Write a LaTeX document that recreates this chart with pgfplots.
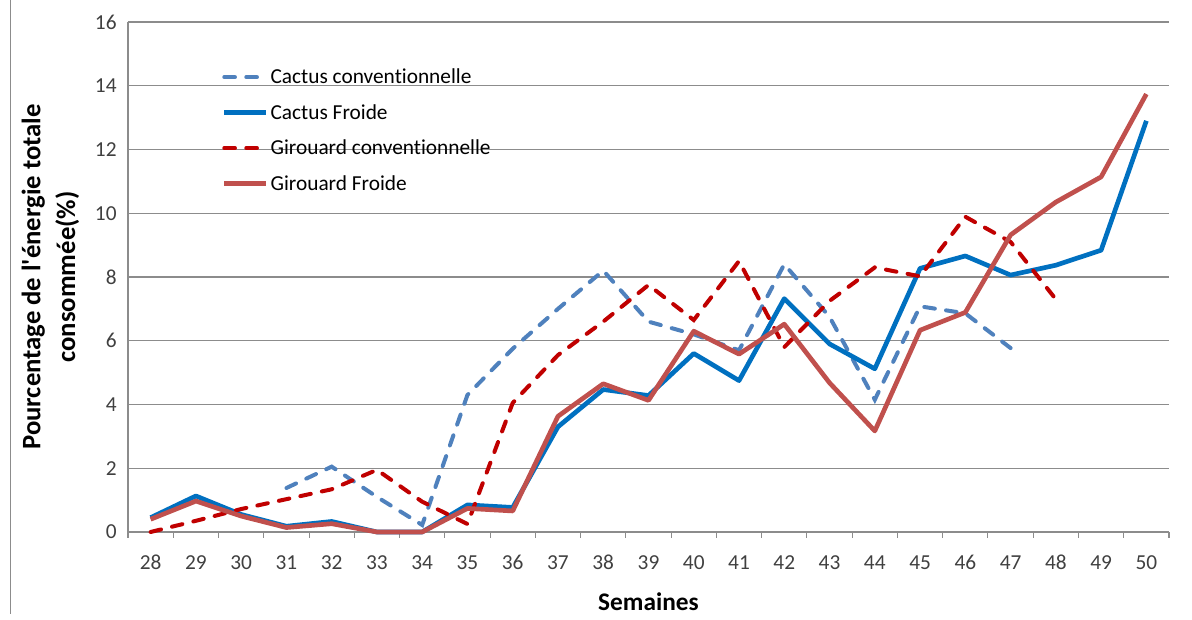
\documentclass[border=0pt]{standalone}
\usepackage{pgfplots}
\pgfplotsset{compat=1.18}
\usepackage{fontspec}
\setmainfont{Carlito}[Ligatures=NoCommon]
\definecolor{bdash}{HTML}{4F81BD}
\definecolor{bsolid}{HTML}{0070C0}
\definecolor{rdash}{HTML}{C00000}
\definecolor{rsolid}{HTML}{C0504D}
\definecolor{gridc}{HTML}{8C8C8C}
\definecolor{tickc}{HTML}{404040}
\begin{document}
\begin{tikzpicture}
\begin{axis}[
  scale only axis,
  width=780.75pt, height=382.5pt,
  xmin=27.5, xmax=50.5, ymin=0, ymax=16,
  xtick={28,...,50},
  minor xtick={27.5,28.5,...,50.5},
  ytick={0,2,...,16},
  axis x line*=bottom, axis y line*=left,
  axis line style={gridc, line width=0.8pt, -},
  tick align=outside,
  major tick length=0pt,
  minor tick length=4.5pt,
  every minor tick/.style={gridc, line width=0.8pt},
  ymajorgrids,
  major grid style={gridc, line width=0.8pt},
  yticklabel style={/pgf/number format/assume math mode=true, font=\fontsize{16}{18}\selectfont, text=tickc, xshift=-5pt},
  xticklabel style={/pgf/number format/assume math mode=true, font=\fontsize{16}{18}\selectfont, text=tickc, yshift=-14pt},
  ytick style={draw=none},
  ylabel={Pourcentage de l\textquotesingle énergie totale\\consommée(\%)},
  ylabel style={font=\bfseries\fontsize{20}{26}\selectfont, align=center, at={(axis description cs:-0.0745,0.5)}, anchor=center},
  xlabel={Semaines},
  xlabel style={font=\bfseries\fontsize{19}{22}\selectfont, at={(axis description cs:0.5,-0.137)}, anchor=center},
  legend style={draw=none, fill=none, inner sep=0pt, at={(axis description cs:0.09,0.914)}, anchor=north west,
    font=\fontsize{16}{19}\selectfont, row sep=10pt, cells={anchor=west}, nodes={inner sep=2pt}},
  legend image code/.code={\draw[#1] (0pt,0pt) -- (31pt,0pt);},
  clip=false,
]
\addplot[bdash, line width=3pt, dash pattern=on 8pt off 8.5pt, line cap=round] coordinates {
(31,1.38) (32,2.05) (33,1.1) (34,0.22) (35,4.3) (36,5.75) (37,7.0) (38,8.2) (39,6.6) (40,6.2) (41,5.7) (42,8.4) (43,6.75) (44,4.15) (45,7.08) (46,6.86) (47,5.77)};
\addlegendentry{Cactus conventionnelle}
\addplot[bsolid, line width=3.5pt, line join=round] coordinates {
(28,0.45) (29,1.13) (30,0.55) (31,0.18) (32,0.33) (33,0) (34,0) (35,0.85) (36,0.77) (37,3.3) (38,4.47) (39,4.28) (40,5.6) (41,4.75) (42,7.32) (43,5.9) (44,5.12) (45,8.27) (46,8.66) (47,8.06) (48,8.37) (49,8.84) (50,12.9)};
\addlegendentry{Cactus Froide}
\addplot[rdash, line width=3pt, dash pattern=on 8pt off 8.5pt, line cap=round] coordinates {
(28,0) (29,0.35) (30,0.72) (31,1.03) (32,1.34) (33,1.95) (34,0.95) (35,0.25) (36,4.05) (37,5.55) (38,6.6) (39,7.75) (40,6.65) (41,8.5) (42,5.8) (43,7.25) (44,8.3) (45,8.02) (46,9.89) (47,9.1) (48,7.3)};
\addlegendentry{Girouard conventionnelle}
\addplot[rsolid, line width=3.5pt, line join=round] coordinates {
(28,0.4) (29,0.97) (30,0.5) (31,0.14) (32,0.26) (33,0) (34,0) (35,0.74) (36,0.66) (37,3.63) (38,4.65) (39,4.13) (40,6.3) (41,5.58) (42,6.52) (43,4.68) (44,3.17) (45,6.33) (46,6.89) (47,9.32) (48,10.35) (49,11.14) (50,13.74)};
\addlegendentry{Girouard Froide}
\coordinate (sw) at (rel axis cs:0,0);
\coordinate (ne) at (rel axis cs:1,1);
\end{axis}
\draw[gridc, line width=0.6pt] ([xshift=-88.5pt, yshift=16.5pt]sw |- ne) -- ([xshift=-88.5pt,yshift=-61.5pt]sw);
\pgfresetboundingbox
\path[use as bounding box] ([shift={(-96pt,-66pt)}]sw) rectangle ([shift={(17.25pt,16.5pt)}]ne);
\end{tikzpicture}
\end{document}
